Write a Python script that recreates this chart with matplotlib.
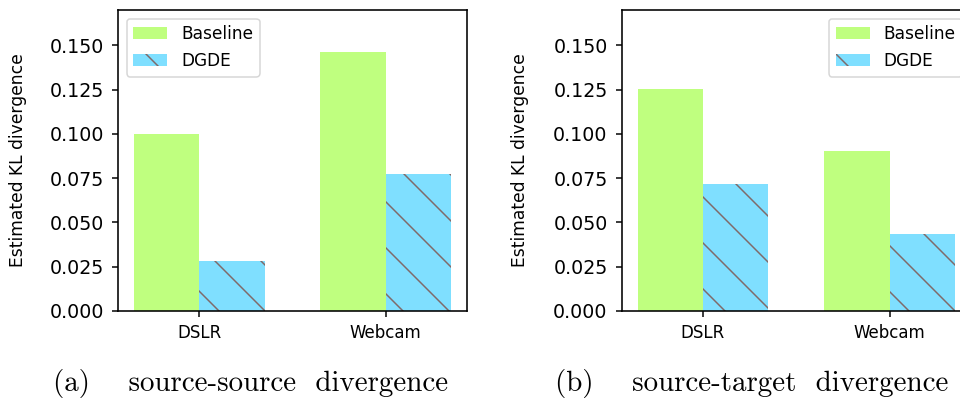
import numpy as np
import matplotlib
matplotlib.use("Agg")
import matplotlib.pyplot as plt

# dpi picked so the default hatch spacing matches the reference
DPI = 138


def pt(px):
    # pixel size -> points at this dpi
    return px * 72.0 / DPI


domains = ["DSLR", "Webcam"]
methods = ["Baseline", "DGDE"]
source_source = {"Baseline": [0.1002, 0.1465], "DGDE": [0.0280, 0.0771]}
source_target = {"Baseline": [0.1256, 0.0906], "DGDE": [0.0716, 0.0436]}
captions = ["(a)    source-source  divergence", "(b)    source-target  divergence"]

colors = {"Baseline": "#bfff7f", "DGDE": "#7fdfff"}
hatches = {"Baseline": None, "DGDE": "\\"}

plt.rcParams["hatch.linewidth"] = pt(1.5)
plt.rcParams["axes.linewidth"] = pt(1.6)

fig = plt.figure(figsize=(960 / DPI, 398 / DPI), dpi=DPI)

W, H = 960.0, 398.0
ax_w, ax_h = 349.0, 301.0
ax_top = 10.0
lefts = [118.0, 621.7]
label_x = [27.0, 529.0]
caption_x = [251.0, 752.0]
legend_loc = ["upper left", "upper right"]

x = np.arange(len(domains))
width = 0.35

for i, data in enumerate([source_source, source_target]):
    ax = fig.add_axes([lefts[i] / W, 1 - (ax_top + ax_h) / H, ax_w / W, ax_h / H])
    for j, m in enumerate(methods):
        ax.bar(x + (j - 0.5) * width, data[m], width, color=colors[m],
               hatch=hatches[m], edgecolor="#7f6a6a", linewidth=0, label=m)
    ax.set_ylim(0, 0.17)
    ax.set_xticks(x)
    ax.set_xticklabels(domains, fontsize=pt(16.6))
    yt = np.arange(0, 0.151, 0.025)
    ax.set_yticks(yt)
    ax.set_yticklabels(["%.3f" % v for v in yt], fontsize=pt(19))
    ax.tick_params(axis="y", length=pt(6), width=pt(1.5), pad=pt(8))
    ax.tick_params(axis="x", length=pt(5.5), width=pt(1.5), pad=pt(7))
    ax.set_ylabel("Estimated KL divergence", fontsize=pt(17.1))
    ax.yaxis.set_label_coords(-(lefts[i] - label_x[i]) / ax_w, 0.5)
    leg = ax.legend(loc=legend_loc[i], fontsize=pt(17), borderaxespad=0.5)
    leg.get_frame().set_linewidth(pt(1.5))

    fig.text(caption_x[i] / W, 7 / H, captions[i], family="cmr10",
             fontsize=pt(29), ha="center", va="baseline")

fig.savefig("out.png", dpi=DPI)
